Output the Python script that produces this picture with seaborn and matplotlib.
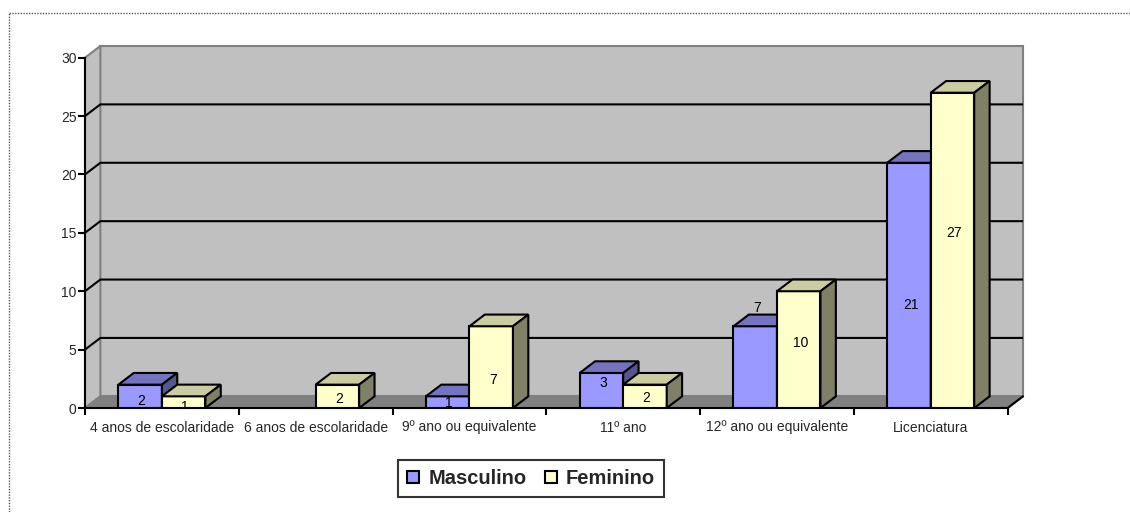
import numpy as np
import pandas as pd
import matplotlib
matplotlib.use("Agg")
import matplotlib.pyplot as plt
import seaborn as sns
from matplotlib.patches import Polygon, Patch
from matplotlib.lines import Line2D

# ---------------- data ----------------
categories = ["4 anos de escolaridade", "6 anos de escolaridade",
              "9º ano ou equivalente", "11º ano",
              "12º ano ou equivalente", "Licenciatura"]
series_names = ["Masculino", "Feminino"]
masculino = [2, 0, 1, 3, 7, 21]
feminino = [1, 2, 7, 2, 10, 27]
y_ticks = [0, 5, 10, 15, 20, 25, 30]
# value-axis height at which each data label sits in the original
label_at_masculino = [0.63, 0.0, 0.43, 2.14, 8.56, 8.82]
label_at_feminino = [0.11, 0.75, 2.4, 0.86, 5.57, 14.99]

# ---------------- style ----------------
sns.set_style("white")
plt.rcParams["font.family"] = ["Liberation Sans", "DejaVu Sans"]

front = {"Masculino": "#9999FF", "Feminino": "#FFFFCC"}
top_c = {"Masculino": "#7373C0", "Feminino": "#CCCCA3"}
side_c = {"Masculino": "#56568F", "Feminino": "#808066"}
DX, DY = 0.1, 1.0  # depth offset (category units, value units)
LW = 1.5
FS = 10

W, H = 1130, 512
fig = plt.figure(figsize=(W / 100, H / 100), dpi=100)
ax = fig.add_axes([85 / W, 1 - 408 / H, (1023 - 85) / W, (408 - 46) / H])
ax.set_facecolor("none")

rows = []
for c, m, f in zip(categories, masculino, feminino):
    rows.append((c, "Masculino", m))
    rows.append((c, "Feminino", f))
df = pd.DataFrame(rows, columns=["Nivel", "Sexo", "Valor"])
df = df[df["Valor"] > 0]

sns.barplot(data=df, x="Nivel", y="Valor", hue="Sexo", order=categories,
            hue_order=series_names, palette=front, saturation=1,
            width=0.566, gap=0, edgecolor="black", linewidth=LW,
            errorbar=None, legend=False, ax=ax)

ax.set_xlim(-0.5, 5.5 + DX)
ax.set_ylim(0, 30 + DY)
ax.set_xlabel("")
ax.set_ylabel("")

# walls and floor
wall_kw = dict(fc="#C0C0C0", ec="#808080", lw=LW, clip_on=False, joinstyle="miter")
ax.add_patch(Polygon([(-0.5 + DX, DY), (5.5 + DX, DY), (5.5 + DX, 30 + DY),
                      (-0.5 + DX, 30 + DY)], zorder=0.5, **wall_kw))
ax.add_patch(Polygon([(-0.5, 0), (-0.5 + DX, DY), (-0.5 + DX, 30 + DY),
                      (-0.5, 30)], zorder=0.5, **wall_kw))
ax.add_patch(Polygon([(-0.5, 0), (5.5, 0), (5.5 + DX, DY), (-0.5 + DX, DY)],
                     fc="#808080", ec="#808080", lw=LW, clip_on=False, zorder=0.6))

# gridlines
for v in y_ticks[1:-1]:
    ax.plot([-0.5, -0.5 + DX, 5.5 + DX], [v, v + DY, v + DY], color="black",
            lw=LW, zorder=1, clip_on=False, solid_capstyle="butt")
ax.plot([5.5, 5.5 + DX], [0, DY], color="black", lw=LW, zorder=2.6, clip_on=False)

# 3D faces for the bars
values = {"Masculino": masculino, "Feminino": feminino}
label_at = {"Masculino": label_at_masculino, "Feminino": label_at_feminino}
bars = []
for j, cont in enumerate(ax.containers):
    name = series_names[j]
    for p in cont.patches:
        h = p.get_height()
        if not np.isfinite(h) or h <= 0:
            continue
        bars.append((p.get_x(), p, name))
bars.sort(key=lambda b: b[0])
for k, (x0, p, name) in enumerate(bars):
    z = 3 + 0.2 * k
    w, h = p.get_width(), p.get_height()
    p.set_zorder(z)
    p.set_joinstyle("miter")
    ax.add_patch(Polygon([(x0, h), (x0 + w, h), (x0 + w + DX, h + DY), (x0 + DX, h + DY)],
                         fc=top_c[name], ec="black", lw=LW, zorder=z + 0.1,
                         joinstyle="miter", clip_on=False))
    ax.add_patch(Polygon([(x0 + w, 0), (x0 + w + DX, DY), (x0 + w + DX, h + DY), (x0 + w, h)],
                         fc=side_c[name], ec="black", lw=LW, zorder=z + 0.1,
                         joinstyle="miter", clip_on=False))
    i = int(round(x0 + w / 2))
    ax.text(x0 + w / 2 + 0.01, label_at[name][i], str(values[name][i]),
            ha="center", va="center", fontsize=FS, color="black",
            zorder=50, clip_on=True)

# axes
for s in ["top", "right"]:
    ax.spines[s].set_visible(False)
ax.spines["left"].set_bounds(0, 30)
ax.spines["bottom"].set_bounds(-0.5, 5.5)
for s in ["left", "bottom"]:
    ax.spines[s].set_linewidth(LW)
    ax.spines[s].set_color("black")
    ax.spines[s].set_zorder(2.7)

ax.set_yticks(y_ticks)
ax.set_yticklabels([str(t) for t in y_ticks])
ax.tick_params(axis="y", direction="out", length=5, width=LW, color="black",
               labelsize=FS, pad=1, left=True)
ax.set_xticks(np.arange(-0.5, 6, 1))
ax.set_xticklabels([])
ax.set_xticks(np.arange(len(categories)), minor=True)
ax.set_xticklabels(categories, minor=True)
ax.tick_params(axis="x", which="major", direction="out", length=5, width=LW,
               color="black", bottom=True)
ax.tick_params(axis="x", which="minor", length=0, pad=9, labelsize=FS, bottom=True)

# legend
handles = [Patch(fc=front[n], ec="black", lw=LW) for n in series_names]
leg = fig.legend(handles, series_names, loc="center",
                 bbox_to_anchor=(531 / W, 1 - 478.5 / H), ncol=2, frameon=True,
                 fancybox=False, edgecolor="black",
                 prop={"weight": "bold", "size": 14.5},
                 handlelength=0.6, handleheight=0.6, handletextpad=0.45,
                 columnspacing=0.9, borderpad=0.45, borderaxespad=0)
leg.get_frame().set_linewidth(LW)

# dotted chart-area border
fig.add_artist(Line2D([8.5 / W, 1.0], [1 - 13 / H] * 2, transform=fig.transFigure,
                      color="#555555", lw=1, linestyle=(0, (1, 1))))
fig.add_artist(Line2D([8.5 / W] * 2, [0, 1 - 13 / H], transform=fig.transFigure,
                      color="#555555", lw=1, linestyle=(0, (1, 1))))

fig.savefig("out.png", dpi=100)
